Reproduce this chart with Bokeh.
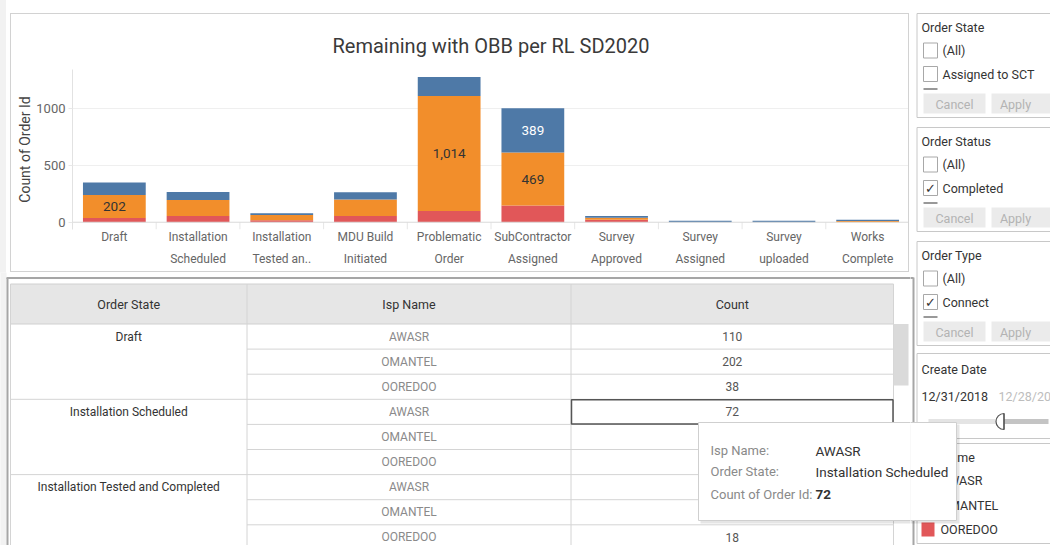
from bokeh.plotting import figure
from bokeh.models import Range1d, FixedTicker, Span, ColumnDataSource, LinearAxis, Title
from bokeh.layouts import row, column
from bokeh.embed import file_html
from bokeh.resources import INLINE
from bokeh.core.properties import value

FONT = "Roboto"

# ---------------- data ----------------
chart_title = "Remaining with OBB per RL SD2020"
states = ["Draft", "Installation Scheduled", "Installation Tested and Completed",
          "MDU Build Initiated", "Problematic Order", "SubContractor Assigned",
          "Survey Approved", "Survey Assigned", "Survey uploaded", "Works Complete"]
state_ticks = ["Draft", "Installation\nScheduled", "Installation\nTested an..",
               "MDU Build\nInitiated", "Problematic\nOrder", "SubContractor\nAssigned",
               "Survey\nApproved", "Survey\nAssigned", "Survey\nuploaded", "Works\nComplete"]
isp_names = ["AWASR", "OMANTEL", "OOREDOO"]
awasr = [110, 72, 15, 65, 168, 389, 16, 14, 13, 11]
omantel = [202, 140, 46, 145, 1014, 469, 18, 0, 0, 12]
ooredoo = [38, 56, 18, 55, 100, 147, 22, 0, 0, 0]
y_ticks = [0, 500, 1000]
y_title = "Count of Order Id"
labelled_states = ["Draft", "Problematic Order", "SubContractor Assigned", "SubContractor Assigned"]
labelled_isps = ["OMANTEL", "OMANTEL", "AWASR", "OMANTEL"]

table_headers = ["Order State", "Isp Name", "Count"]
table_states = ["Draft", "Installation Scheduled", "Installation Tested and Completed"]
selected_state = "Installation Scheduled"
selected_isp = "AWASR"
tooltip_labels = ["Isp Name:", "Order State:", "Count of Order Id:"]

filter_titles = ["Order State", "Order Status", "Order Type"]
filter_items = [["(All)", "Assigned to SCT"], ["(All)", "Completed"], ["(All)", "Connect"]]
filter_checked = [[False, False], [False, True], [False, True]]
button_labels = ["Cancel", "Apply"]
date_title = "Create Date"
date_range = ["12/31/2018", "12/28/2020"]
legend_title = "Isp Name"

isp_colors = {"AWASR": "#4E79A7", "OMANTEL": "#F28E2B", "OOREDOO": "#E15759"}
series = {"AWASR": awasr, "OMANTEL": omantel, "OOREDOO": ooredoo}
stack_order = ["OOREDOO", "OMANTEL", "AWASR"]


def txt(fig, xs, ys, texts, size="12px", color="#333333", align="left", style="normal", font=FONT):
    fig.text(x=xs, y=ys, text=texts, text_font=value(font), text_font_size=size,
             text_color=color, text_align=align, text_baseline="middle",
             text_font_style=style)


# ---------------- bar chart ----------------
N = len(states)
xpos = list(range(1, N + 1))          # category slots on the x scale
Y0 = -64
chart = figure(x_range=Range1d(0.5, N + 0.5), y_range=Range1d(Y0, 1348),
               width=899, height=259, output_backend="svg", toolbar_location=None,
               min_border_left=61, min_border_right=1, min_border_top=55, min_border_bottom=44,
               title=chart_title, margin=(13, 1, 0, 10), frame_align=False,
               x_axis_location=None,
               styles={"border": "1px solid #d2d2d2", "box-sizing": "border-box"})
chart.title.text_font = FONT
chart.title.text_font_size = "20px"
chart.title.text_font_style = "normal"
chart.title.text_color = "#3a3a3a"
chart.title.align = "center"
# small empty spacer between the title and the plot area
chart.add_layout(Title(text=" ", text_font_size="4px", standoff=0), "above")
chart.outline_line_color = None
chart.background_fill_color = "white"
chart.border_fill_color = "white"

src = ColumnDataSource(dict(x=xpos, state=states, AWASR=awasr, OMANTEL=omantel, OOREDOO=ooredoo))
chart.vbar_stack(stack_order, x="x", width=0.75, source=src,
                 color=[isp_colors[k] for k in stack_order], line_color=None)

# header separators below the baseline
sep_x = [x + 0.5 for x in xpos[:-1]]
chart.segment(x0=sep_x, y0=[0] * len(sep_x), x1=sep_x, y1=[Y0] * len(sep_x),
              line_color="#e6e6e6", line_width=1)
chart.add_layout(Span(location=0, dimension="width", line_color="#d9d9d9", line_width=1))

# bar labels
lx, ly, lt, lc = [], [], [], []
for s, isp in zip(labelled_states, labelled_isps):
    i = states.index(s)
    base = sum(series[o][i] for o in stack_order[:stack_order.index(isp)])
    v = series[isp][i]
    lx.append(xpos[i])
    ly.append(base + v / 2)
    lt.append(f"{v:,}")
    lc.append("white" if isp == "AWASR" else "#333333")
chart.text(x=lx, y=ly, text=lt, text_color=lc, text_font=value(FONT), text_font_size="13.5px",
           text_align="center", text_baseline="middle")

yax = chart.yaxis[0]
yax.ticker = FixedTicker(ticks=y_ticks)
yax.axis_label = y_title
yax.axis_label_text_font = FONT
yax.axis_label_text_font_size = "14px"
yax.axis_label_text_font_style = "normal"
yax.axis_label_text_color = "#444444"
yax.axis_label_standoff = 0
yax.major_label_text_font = FONT
yax.major_label_text_font_size = "13px"
yax.major_label_text_color = "#666666"
yax.axis_line_color = "#e2e2e2"
yax.major_tick_line_color = "#e8e8e8"
yax.major_tick_out = 4
yax.major_tick_in = 0
yax.minor_tick_line_color = None
yax.major_label_standoff = 3

line1 = [t.split("\n")[0] for t in state_ticks]
line2 = [(t.split("\n") + [" "])[1] for t in state_ticks]

for lines, so in ((line1, 0), (line2, 5)):
    ax = LinearAxis(ticker=FixedTicker(ticks=xpos),
                    major_label_overrides={x: lab for x, lab in zip(xpos, lines)})
    ax.major_label_text_font = FONT
    ax.major_label_text_font_size = "12px"
    ax.major_label_text_color = "#666666"
    ax.axis_line_color = None
    ax.major_tick_line_color = None
    ax.minor_tick_line_color = None
    ax.major_tick_out = 0
    ax.major_tick_in = 0
    ax.minor_tick_out = 0
    ax.major_label_standoff = so
    chart.add_layout(ax, "below")

chart.xgrid.grid_line_color = None
chart.ygrid.ticker = FixedTicker(ticks=[500, 1000])
chart.ygrid.grid_line_color = "#efefef"

# ---------------- tooltip helper (page coordinates) ----------------
TT = dict(left=698, right=956, top=422, bottom=520)


def draw_tooltip(fig):
    fig.quad(left=[TT["left"] + 2], right=[TT["right"] + 3], top=[TT["top"] + 2], bottom=[TT["bottom"] + 3],
             fill_color="black", fill_alpha=0.10, line_color=None)
    fig.quad(left=[TT["left"]], right=[TT["right"]], top=[TT["top"]], bottom=[TT["bottom"]],
             fill_color="white", line_color="#cfcfcf", line_width=1)
    i = states.index(selected_state)
    cnt = series[selected_isp][i]
    ys = [450, 471, 494]
    txt(fig, [710] * 3, ys, tooltip_labels, size="13px", color="#8a8a8a")
    txt(fig, [815, 815], ys[:2], [selected_isp, selected_state], size="13.5px", color="#333333")
    txt(fig, [815], [ys[2]], [f"{cnt}"], size="13.5px", color="#333333", style="bold")


# ---------------- table ----------------
tbl = figure(width=910, height=273, x_range=Range1d(0, 910), y_range=Range1d(545, 272),
             x_axis_type=None, y_axis_type=None, output_backend="svg", toolbar_location=None,
             min_border=0, outline_line_color=None, frame_align=False)
tbl.grid.visible = False

col_edges = [10, 246.5, 570.5, 893]
H_TOP, H_BOT, ROW_H = 283.5, 323.5, 25.1
BOTTOM = 560

tbl.quad(left=[0], right=[6], top=[260], bottom=[BOTTOM], fill_color="#f2f2f2", line_color=None)
# panel frame
tbl.segment(x0=[6], y0=[277.5], x1=[920], y1=[277.5], line_color="#a6a6a6", line_width=2)
tbl.segment(x0=[7], y0=[277.5], x1=[7], y1=[BOTTOM], line_color="#a6a6a6", line_width=2)
# header
tbl.quad(left=[col_edges[0]], right=[col_edges[-1]], top=[H_TOP], bottom=[H_BOT],
         fill_color="#e6e6e6", line_color="#d0d0d0")
# verticals
tbl.segment(x0=col_edges, y0=[H_TOP] * 4, x1=col_edges, y1=[BOTTOM] * 4, line_color="#d4d4d4")
# row lines
n_rows = len(table_states) * len(isp_names)
for r in range(1, n_rows + 1):
    y = H_BOT + r * ROW_H
    x0 = col_edges[0] if r % 3 == 0 else col_edges[1]
    tbl.segment(x0=[x0], y0=[y], x1=[col_edges[-1]], y1=[y], line_color="#d4d4d4")

centers = [(col_edges[k] + col_edges[k + 1]) / 2 for k in range(3)]
txt(tbl, centers, [(H_TOP + H_BOT) / 2] * 3, table_headers, size="12.5px", color="#333333", align="center")

gx, gy, gt = [], [], []
ix, iy, it, cx, cy, ct = [], [], [], [], [], []
for gi, st in enumerate(table_states):
    si = states.index(st)
    gx.append(centers[0]); gy.append(H_BOT + ROW_H * (3 * gi + 0.5)); gt.append(st)
    for ii, isp in enumerate(isp_names):
        r = gi * 3 + ii
        y = H_BOT + ROW_H * (r + 0.5)
        ix.append(centers[1]); iy.append(y); it.append(isp)
        cx.append(centers[2]); cy.append(y); ct.append(f"{series[isp][si]:,}")
txt(tbl, gx, gy, gt, size="12px", color="#333333", align="center")
txt(tbl, ix, iy, it, size="12px", color="#8a8a8a", align="center")
txt(tbl, cx, cy, ct, size="12px", color="#555555", align="center")

# selected cell
sel_r = table_states.index(selected_state) * 3 + isp_names.index(selected_isp)
tbl.quad(left=[col_edges[2] + 0.5], right=[col_edges[3] - 0.5], top=[H_BOT + ROW_H * sel_r + 0.5],
         bottom=[H_BOT + ROW_H * (sel_r + 1) - 0.5], fill_color=None, line_color="#555555", line_width=1.5)

# scrollbar thumb
tbl.quad(left=[893], right=[908], top=[H_BOT], bottom=[385], fill_color="#dadada", line_color=None)

draw_tooltip(tbl)

# ---------------- side panels ----------------
side = figure(width=140, height=545, x_range=Range1d(910, 1050), y_range=Range1d(545, 0),
              x_axis_type=None, y_axis_type=None, output_backend="svg", toolbar_location=None,
              min_border=0, outline_line_color=None, frame_align=False)
side.grid.visible = False

# table panel top/right border
side.segment(x0=[900], y0=[277.5], x1=[913], y1=[277.5], line_color="#a6a6a6", line_width=2)
side.segment(x0=[913], y0=[277], x1=[913], y1=[560], line_color="#a6a6a6", line_width=2)

PL = 916.5
filter_tops = [13, 127, 241]
for k, t in enumerate(filter_tops):
    side.quad(left=[PL], right=[1080], top=[t], bottom=[t + 104], fill_color="white", line_color="#c8c8c8")
    txt(side, [921], [t + 13.5], [filter_titles[k]], size="12.5px", color="#333333")
    ys = [t + 37, t + 60.5]
    side.quad(left=[923, 923], right=[937, 937], top=[y - 7.5 for y in ys], bottom=[y + 7.5 for y in ys],
              fill_color="white", line_color="#a8a8a8")
    txt(side, [942, 942], ys, filter_items[k], size="12.5px", color="#333333")
    for y, chk in zip(ys, filter_checked[k]):
        if chk:
            txt(side, [930], [y + 0.5], ["\u2713"], size="13px", color="#333333", align="center",
                font="DejaVu Sans")
    side.segment(x0=[923], y0=[t + 75.5], x1=[937], y1=[t + 75.5], line_color="#777777", line_width=1.5)
    side.quad(left=[923, 991], right=[985, 1080], top=[t + 80] * 2, bottom=[t + 100] * 2,
              fill_color="#ebebeb", line_color=None)
    txt(side, [954, 1015], [t + 90.5] * 2, button_labels, size="12.5px", color="#b3b3b3", align="center")

# date panel
DT = 353
side.quad(left=[PL], right=[1080], top=[DT], bottom=[DT + 85], fill_color="white", line_color="#c8c8c8")
txt(side, [921], [DT + 15.5], [date_title], size="12.5px", color="#333333")
txt(side, [921, 998], [DT + 42.5] * 2, date_range, size="12.5px", color=["#333333", "#bdbdbd"])
side.quad(left=[928, 1003], right=[1003, 1048], top=[418.5] * 2, bottom=[423.5] * 2,
          fill_color=["#e4e4e4", "#c4c4c4"], line_color=None)
side.wedge(x=[1003.5], y=[421], radius=8, start_angle=1.5708, end_angle=4.7124,
           fill_color="white", line_color="#555555", line_width=1.2)
side.segment(x0=[1003.5], y0=[413], x1=[1003.5], y1=[429], line_color="#555555", line_width=1.2)

# legend panel
LT = 443
side.quad(left=[PL], right=[1080], top=[LT], bottom=[LT + 100], fill_color="white", line_color="#c8c8c8")
txt(side, [921], [LT + 14], [legend_title], size="12.5px", color="#333333")
lys = [LT + 37, LT + 62, LT + 86]
side.quad(left=[921] * 3, right=[934] * 3, top=[y - 7 for y in lys], bottom=[y + 7 for y in lys],
          fill_color=[isp_colors[k] for k in isp_names], line_color=None)
txt(side, [940] * 3, lys, isp_names, size="12.5px", color="#333333")

draw_tooltip(side)

layout = row(column(chart, tbl, spacing=0), side, spacing=0,
             styles={"background": "linear-gradient(90deg, #f2f2f2 0px, #f2f2f2 6px, #ffffff 6px)"})
open("out.html", "w").write(file_html(layout, INLINE))
